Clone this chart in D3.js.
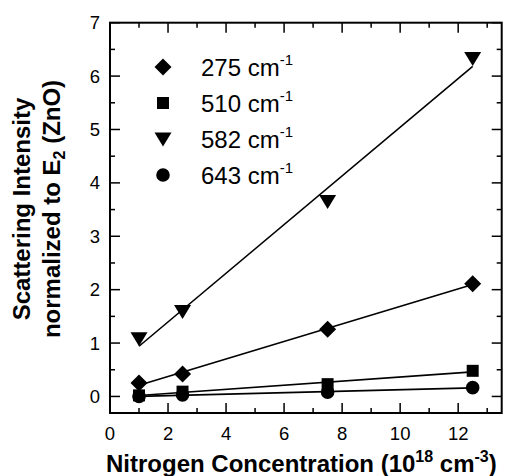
<!DOCTYPE html>
<html>
<head>
<meta charset="utf-8">
<script src="https://cdn.jsdelivr.net/npm/d3@7"></script>
<style>
  body { margin: 0; background: #fff; }
  text { font-family: "Liberation Sans", Arial, sans-serif; fill: #000; }
</style>
</head>
<body>
<svg id="chart" width="508" height="476"></svg>
<script>
// data
var concentration = [1, 2.5, 7.5, 12.5];
var modes = ['275', '510', '582', '643'];
var shapes = ['diamond', 'square', 'triangle', 'circle'];
var intensity275 = [0.25, 0.42, 1.26, 2.11];
var intensity510 = [0.02, 0.09, 0.23, 0.48];
var intensity582 = [1.08, 1.59, 3.65, 6.33];
var intensity643 = [0.0, 0.03, 0.08, 0.165];
var xTicks = [0, 2, 4, 6, 8, 10, 12];
var yTicks = [0, 1, 2, 3, 4, 5, 6, 7];

var series = [intensity275, intensity510, intensity582, intensity643];

var svg = d3.select('#chart');
var plotLeft = 110, plotTop = 22.7, plotRight = 501.7, plotBottom = 413;

var x = d3.scaleLinear().domain([0, 13.5]).range([plotLeft, plotRight]);
var y = d3.scaleLinear().domain([-0.31, 7]).range([plotBottom, plotTop]);

var markerPath = function(shape) {
  if (shape == 'diamond') return 'M0,-8.5L8.5,0L0,8.5L-8.5,0Z';
  if (shape == 'square') return 'M-6,-6H6V6H-6Z';
  if (shape == 'triangle') return 'M-8.5,-6.5L8.5,-6.5L0,7.5Z';
  return d3.symbol().type(d3.symbolCircle).size(Math.PI * 6.8 * 6.8)();
};

// least squares line through each series
var fit = function(xs, ys) {
  var mx = d3.mean(xs), my = d3.mean(ys);
  var sxy = d3.sum(xs, function(v, i){return (v - mx) * (ys[i] - my);});
  var sxx = d3.sum(xs, function(v){return (v - mx) * (v - mx);});
  var b = sxy / sxx;
  return function(v){return my + b * (v - mx);};
};

// ticks, inward on all four sides
var minorX = d3.range(0, 13.5, 1);
var minorY = d3.range(0, 7.01, 0.5);

var ticks = svg.append('g').attr('stroke', '#000').attr('stroke-width', 1.5);
minorX.forEach(function(v) {
  var len = (v % 2 == 0) ? 10 : 5;
  ticks.append('line').attr('x1', x(v)).attr('x2', x(v)).attr('y1', plotBottom).attr('y2', plotBottom - len);
  ticks.append('line').attr('x1', x(v)).attr('x2', x(v)).attr('y1', plotTop).attr('y2', plotTop + len);
});
minorY.forEach(function(v) {
  var len = (v % 1 == 0) ? 10 : 5;
  ticks.append('line').attr('y1', y(v)).attr('y2', y(v)).attr('x1', plotLeft).attr('x2', plotLeft + len);
  ticks.append('line').attr('y1', y(v)).attr('y2', y(v)).attr('x1', plotRight).attr('x2', plotRight - len);
});

svg.append('rect')
    .attr('x', plotLeft).attr('y', plotTop)
    .attr('width', plotRight - plotLeft).attr('height', plotBottom - plotTop)
    .attr('fill', 'none').attr('stroke', '#000').attr('stroke-width', 2);

svg.append('g').selectAll('text')
    .data(xTicks)
    .enter().append('text')
    .attr('x', function(d){return x(d);})
    .attr('y', 440)
    .attr('text-anchor', 'middle')
    .style('font-size', '18.5px')
    .text(function(d){return d;});

svg.append('g').selectAll('text')
    .data(yTicks)
    .enter().append('text')
    .attr('x', 100)
    .attr('y', function(d){return y(d) + 6.5;})
    .attr('text-anchor', 'end')
    .style('font-size', '18.5px')
    .text(function(d){return d;});

// fit lines
var lines = svg.append('g');
series.forEach(function(vals) {
  var f = fit(concentration, vals);
  var x0 = concentration[0], x1 = concentration[concentration.length - 1];
  lines.append('line')
      .attr('x1', x(x0)).attr('y1', y(f(x0)))
      .attr('x2', x(x1)).attr('y2', y(f(x1)))
      .attr('stroke', '#000').attr('stroke-width', 1.6);
});

// markers
series.forEach(function(vals, i) {
  svg.append('g').selectAll('path')
      .data(vals)
      .enter().append('path')
      .attr('transform', function(d, j){return 'translate(' + x(concentration[j]) + ',' + y(d) + ')';})
      .attr('d', markerPath(shapes[i]))
      .attr('fill', '#000');
});

// legend
var legend = svg.append('g').selectAll('g')
    .data(modes)
    .enter().append('g')
    .attr('transform', function(d, i){return 'translate(163,' + (67 + i * 36) + ')';});

legend.append('path')
    .attr('d', function(d, i){return markerPath(shapes[i]);})
    .attr('fill', '#000');

var ltext = legend.append('text')
    .attr('x', 38).attr('y', 8.5)
    .style('font-size', '24px');
ltext.append('tspan').text(function(d){return d + ' cm';});
ltext.append('tspan').attr('dy', -11).style('font-size', '15px').text('-1');

// axis titles
var xt = svg.append('text')
    .attr('x', 106).attr('y', 472)
    .style('font-size', '24px').style('font-weight', 'bold');
xt.append('tspan').text('Nitrogen Concentration (10');
xt.append('tspan').attr('dy', -10).style('font-size', '16px').text('18');
xt.append('tspan').attr('dy', 10).text(' cm');
xt.append('tspan').attr('dy', -10).style('font-size', '16px').text('-3');
xt.append('tspan').attr('dy', 10).text(')');

var yt = svg.append('g').attr('transform', 'translate(0,209) rotate(-90)');
yt.append('text')
    .attr('x', 0).attr('y', 30)
    .attr('text-anchor', 'middle')
    .style('font-size', '24px').style('font-weight', 'bold')
    .text('Scattering Intensity');
var yt2 = yt.append('text')
    .attr('x', 0).attr('y', 60)
    .attr('text-anchor', 'middle')
    .style('font-size', '24px').style('font-weight', 'bold');
yt2.append('tspan').text('normalized to E');
yt2.append('tspan').attr('dy', 5).style('font-size', '16px').text('2');
yt2.append('tspan').attr('dy', -5).text(' (ZnO)');
</script>
</body>
</html>
